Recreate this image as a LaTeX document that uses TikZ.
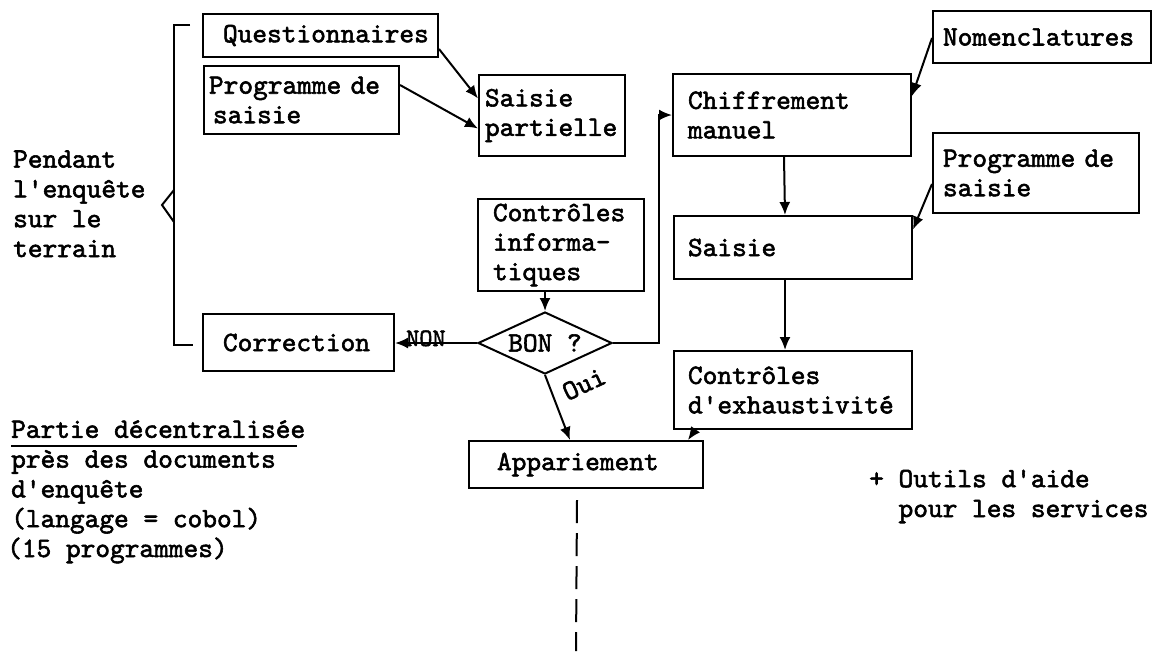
\documentclass[tikz,border=0pt]{standalone}
\usepackage{fontspec}
\usetikzlibrary{arrows.meta,calc,shapes.geometric}
\font\twf="[lmmono10-regular.otf]:embolden=2" at 28pt
\font\twn="[lmmono10-regular.otf]:embolden=2" at 25pt
\newcommand\fsz{\twf\baselineskip=29.5pt\relax}
\newcommand\fsl{\twf\baselineskip=29.8pt\relax}
\newcommand\fsn{\twn\baselineskip=26pt\relax}
\tikzset{
  box/.style={draw, line width=2pt, font=\fsz, align=left, inner ysep=0pt, anchor=north west},
  arr/.style={-{Latex[length=13pt,width=11pt]}, line width=2pt},
  ln/.style={line width=2pt},
  txt/.style={font=\fsl, align=left, anchor=base west, inner sep=0pt}
}
\begin{document}
\begin{tikzpicture}[x=1pt,y=-1pt]
\useasboundingbox (0,0) rectangle (1162,651);
% boxes
\node[box, text width=195pt, inner xsep=20pt, minimum height=43pt] (q) at (202,13) {Questionnaires};
\node[box, text width=185pt, inner xsep=5pt, minimum height=68pt] (ps1) at (203,65) {Programme de\\\hspace*{4pt}saisie};
\node[box, text width=134pt, inner xsep=6pt, minimum height=81pt] (sp) at (478,74) {Saisie\\partielle};
\node[box, text width=208pt, inner xsep=15pt, minimum height=82pt] (cm) at (672,73) {Chiffrement\\manuel};
\node[box, text width=198pt, inner xsep=10pt, minimum height=52pt] (nom) at (932,10) {Nomenclatures};
\node[box, text width=186pt, inner xsep=10pt, minimum height=80pt] (ps2) at (932,132) {Programme de\\saisie};
\node[box, text width=210pt, inner xsep=14pt, minimum height=63pt] (sai) at (673,215) {Saisie};
\node[box, text width=210pt, inner xsep=14pt, minimum height=78pt] (ce) at (673,350) {Contrôles\\d'exhaustivité};
\node[box, text width=136pt, inner xsep=15pt, minimum height=92pt] (ci) at (477,198) {Contrôles\\informa-\\tiques};
\node[box, text width=151pt, inner xsep=20pt, minimum height=57pt] (corr) at (202,313) {Correction};
\node[box, text width=178pt, inner xsep=28pt, minimum height=47pt] (app) at (468,440) {Appariement};
\node[draw, diamond, aspect=2, inner sep=0pt, minimum width=134pt, minimum height=62pt, line width=2pt, font=\fsz] (bon) at (545,343) {BON ?};
% labels
\node[font=\fsn, anchor=base west, inner sep=0pt] (non) at (406,346) {NON};
\node[font=\fsz, rotate=25, inner sep=0pt] (oui) at (584,384) {Oui};
\node[txt] (pend) at (13,257) {Pendant\\l'enquête\\sur le\\terrain};
\node[txt] (part) at (11,557) {Partie décentralisée\\près des documents\\d'enquête\\(langage = cobol)\\\hspace*{-4pt}(15 programmes)};
\node[txt] (outils) at (869,517) {+ Outils d'aide\\\phantom{+ }pour les services};
\draw[line width=1.5pt] (11,446) -- (297,446);
% bracket
\coordinate (bt) at (190,25);
\coordinate (bb) at (193,345);
\draw[ln] (bt) -- (174,25) -- (174,345) -- (bb);
\draw[ln] (174,190) -- (162,205) -- (174,222);
% connectors
\draw[arr] ($(q.south east)+(0,-9)$) -- ($(sp.west)+(0,-17)$);
\draw[arr] ($(ps1.east)+(0,-15)$) -- ($(sp.west)+(0,13)$);
\draw[arr] ($(nom.west)+(0,1)$) -- ($(cm.east)+(0,-19)$);
\draw[arr] ($(ps2.west)+(0,11)$) -- ($(sai.east)+(0,-18)$);
\draw[arr] ($(cm.south)+(-8,0)$) -- ($(sai.north)+(-8,0)$);
\draw[arr] ($(sai.south)+(-8,0)$) -- ($(ce.north)+(-8,0)$);
\draw[arr] ($(ce.south west)+(22,0)$) -- ($(app.north east)+(-16,0)$);
\draw[arr] (ci.south -| bon.north) -- (bon.north);
\draw[arr] (bon.west) -- (bon.west -| corr.east);
\draw[arr] (bon.east) -- ++(46,0) |- (cm.west);
\draw[arr] (bon.south) -- ($(app.north west)+(102,0)$);
\coordinate (dend) at (576,651);
\draw[line width=2pt, dash pattern=on 23pt off 10pt] ($(app.south)+(-9,11)$) -- (dend);
\end{tikzpicture}
\end{document}
